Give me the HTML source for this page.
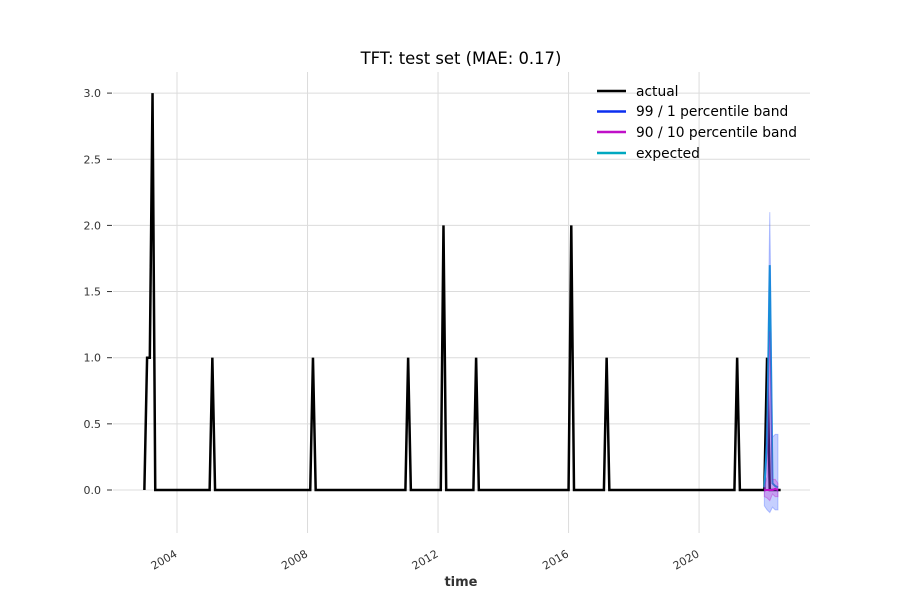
<!DOCTYPE html>
<html><head><meta charset="utf-8"><style>
body{margin:0;background:#fff;}
svg text{font-family:"DejaVu Sans","Liberation Sans",sans-serif;}
</style></head><body>
<svg id="chart" width="900" height="600" xmlns="http://www.w3.org/2000/svg">
<g id="grid"></g>
<g id="axes"></g>
<g id="series"></g>
<text x="461" y="64" font-size="16.4" text-anchor="middle" fill="#000">TFT: test set (MAE: 0.17)</text>
<text x="461" y="586" font-size="13" font-weight="bold" text-anchor="middle" fill="#333">time</text>
<g font-size="13.8">
 <g><line x1="597" y1="91" x2="626" y2="91" stroke="#000" stroke-width="2.5"/><text x="636" y="96">actual</text></g>
 <g><line x1="597" y1="111.5" x2="626" y2="111.5" stroke="#0b2ff0" stroke-width="2.5"/><text x="636" y="116">99 / 1 percentile band</text></g>
 <g><line x1="597" y1="132" x2="626" y2="132" stroke="#c010c8" stroke-width="2.5"/><text x="636" y="137">90 / 10 percentile band</text></g>
 <g><line x1="597" y1="153" x2="626" y2="153" stroke="#00a8c0" stroke-width="2.5"/><text x="636" y="158">expected</text></g>
</g>
</svg>
<script>
const spikeMonths=[1,2,3,25,62,97,110,122,157,170,218,229];
const spikeValues=[1,1,3,1,1,1,2,1,2,1,1,1];
const lastMonth=234;
const fcMonths=[228,229,230,231,232,233];
const fcExpected=[0.02,0.35,1.7,0.05,0.03,0.02];
const fcMedian=[0.0,0.0,0.0,0.0,0.01,0.0];
const fcQ99=[0.05,0.6,2.1,0.4,0.42,0.42];
const fcQ01=[-0.12,-0.15,-0.17,-0.13,-0.15,-0.15];
const fcQ90=[0.02,0.1,1.2,0.08,0.08,0.05];
const fcQ10=[-0.05,-0.06,-0.08,-0.03,-0.05,-0.05];
const yTicks=[0,0.5,1,1.5,2,2.5,3];
const xTickYears=[2004,2008,2012,2016,2020];

const NS="http://www.w3.org/2000/svg";
const X=yr=>177+(yr-2004)*32.63;
const XM=m=>X(2003+m/12);
const Y=v=>490-v*132.3;
function mk(tag,attrs,parent){const e=document.createElementNS(NS,tag);for(const k in attrs)e.setAttribute(k,attrs[k]);parent.appendChild(e);return e;}
const grid=document.getElementById('grid'),axes=document.getElementById('axes'),ser=document.getElementById('series');
yTicks.forEach(v=>{
 const l=mk('line',{x1:113,x2:810,y1:Y(v),y2:Y(v),stroke:'#dcdcdc','stroke-width':1},grid);
 
 
 mk('line',{x1:107,x2:112,y1:Y(v),y2:Y(v),stroke:'#333','stroke-width':1},axes);
 const t=mk('text',{x:101,y:Y(v)+4,'font-size':11,'text-anchor':'end',fill:'#333'},axes);
 t.textContent=v.toFixed(1);
 
 
});
xTickYears.forEach(yr=>{
 const l=mk('line',{x1:X(yr),x2:X(yr),y1:72,y2:533,stroke:'#dcdcdc','stroke-width':1},grid);
 
 
 const tx=X(yr)+1,ty=556;
 const t=mk('text',{x:tx,y:ty,'font-size':11,'text-anchor':'end',fill:'#333',transform:`rotate(-30 ${tx} ${ty})`},axes);
 t.textContent=yr;
 
 
});
const vals=[];for(let m=0;m<=lastMonth;m++)vals.push(0);
spikeMonths.forEach((m,i)=>vals[m]=spikeValues[i]);
const pts=vals.map((v,m)=>XM(m).toFixed(2)+','+Y(v).toFixed(2)).join(' ');
function band(up,lo,fill,op,name){
 let d='M'+fcMonths.map((m,i)=>XM(m)+','+Y(up[i])).join('L');
 d+='L'+fcMonths.slice().reverse().map((m,j)=>{const i=fcMonths.length-1-j;return XM(m)+','+Y(lo[i]);}).join('L')+'Z';
 const p=mk('path',{d:d,fill:fill,'fill-opacity':op,stroke:fill,'stroke-opacity':0.35,'stroke-width':1},ser);
 
 
}
const a=mk('polyline',{points:pts,fill:'none',stroke:'#000','stroke-width':2.5,'stroke-linejoin':'miter'},ser);


const ex=mk('polyline',{points:fcMonths.map((m,i)=>XM(m)+','+Y(fcExpected[i])).join(' '),fill:'none',stroke:'#00a8c0','stroke-width':2},ser);


band(fcQ99,fcQ01,'#4060ff',0.3,'band-99-1');
band(fcQ90,fcQ10,'#c010c8',0.25,'band-90-10');
const md=mk('polyline',{points:fcMonths.map((m,i)=>XM(m)+','+Y(fcMedian[i])).join(' '),fill:'none',stroke:'#c010c8','stroke-width':2},ser);


</script>
</body></html>
